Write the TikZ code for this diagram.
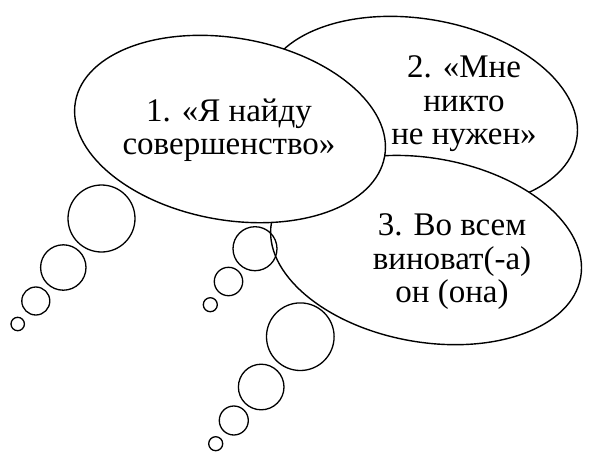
\documentclass[tikz,border=0pt]{standalone}
\usepackage{fontspec}
\setmainfont{Liberation Serif}
\begin{document}
\begin{tikzpicture}[x=1pt,y=-1pt]
	\tikzstyle{every node}=[font=\fontsize{33}{33.5}\selectfont, align=center, inner sep=0pt]
	\tikzstyle{cloud}=[line width=1.4pt, fill=white]
	\tikzstyle{bubble}=[line width=1.3pt]
	\useasboundingbox (0,0) rectangle (598,472);
	\coordinate (c1) at (230,129);
	\coordinate (c2) at (420,112);
	\coordinate (c3) at (426,250);
	
	\draw [cloud, rotate around={-10:(c2)}] (c2) ellipse [x radius=159, y radius=93];
	\draw [cloud, rotate around={-10:(c3)}] (c3) ellipse [x radius=157, y radius=92];
	\draw [cloud, rotate around={-10:(c1)}] (c1) ellipse [x radius=157, y radius=91];
	
	\node (t1) at (229,130) {1. «Я найду\\совершенство»};
	\node (t2) at (464,104) {2. «Мне\\никто\\не нужен»};
	\node (t3) at (452,262) {3. Во всем\\виноват(-а)\\он (она)};
	
	% bubbles
	\foreach \x/\y/\r in {101.5/218.5/33.5, 63.3/267.5/22.7, 35.8/301/14, 17.7/324/6.7}
		\draw [bubble] (\x,\y) circle (\r);
	\foreach \x/\y/\r in {255/248.7/22, 228.5/281.5/14.2, 210.3/304.7/7}
		\draw [bubble] (\x,\y) circle (\r);
	\foreach \x/\y/\r in {300.3/336.7/33.8, 261.2/387/22.8, 233.8/420.5/14.5, 215.7/443.7/7}
		\draw [bubble] (\x,\y) circle (\r);
\end{tikzpicture}
\end{document}
